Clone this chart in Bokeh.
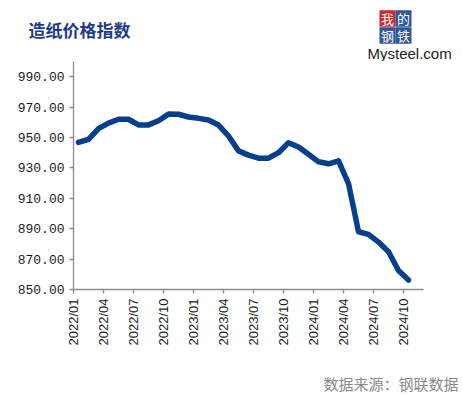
import math
from bokeh.plotting import figure
from bokeh.layouts import column
from bokeh.models import Range1d, FixedTicker, PrintfTickFormatter, ColumnDataSource
from bokeh.core.properties import value
from bokeh.embed import file_html
from bokeh.resources import INLINE

# ---- data ----
months = ["2022/01", "2022/02", "2022/03", "2022/04", "2022/05", "2022/06",
          "2022/07", "2022/08", "2022/09", "2022/10", "2022/11", "2022/12",
          "2023/01", "2023/02", "2023/03", "2023/04", "2023/05", "2023/06",
          "2023/07", "2023/08", "2023/09", "2023/10", "2023/11", "2023/12",
          "2024/01", "2024/02", "2024/03", "2024/04", "2024/05", "2024/06",
          "2024/07", "2024/08", "2024/09", "2024/10"]
values = [946.8, 948.8, 955.8, 959.5, 962.0, 962.0,
          958.3, 958.3, 961.0, 965.4, 965.3, 963.5,
          962.6, 961.5, 958.2, 951.0, 941.2, 938.4,
          936.4, 936.4, 940.0, 946.6, 943.8, 939.0,
          934.0, 932.7, 934.6, 919.7, 888.0, 886.3,
          881.2, 874.8, 862.5, 856.2]
tick_labels = ["2022/01", "2022/04", "2022/07", "2022/10", "2023/01", "2023/04",
               "2023/07", "2023/10", "2024/01", "2024/04", "2024/07", "2024/10"]
y_ticks = [850, 870, 890, 910, 930, 950, 970, 990]

title_text = "造纸价格指数"
source_text = "数据来源：钢联数据"
logo_chars = ["我", "的", "钢", "铁"]
logo_colors = ["#d1262b", "#2f5597", "#2f5597", "#2f5597"]
logo_brand = "Mysteel.com"

W = 463


def blank(height):
    f = figure(width=W, height=height, output_backend="svg", toolbar_location=None,
               x_range=Range1d(0, W), y_range=Range1d(0, height),
               min_border=0, x_axis_type=None, y_axis_type=None)
    f.outline_line_color = None
    f.xgrid.visible = False
    f.ygrid.visible = False
    f.frame_align = False
    return f


# ---- header: title + logo ----
HH = 61
head = blank(HH)
head.text(x=[28], y=[HH - 28.5], text=[title_text], text_font=value("Noto Sans CJK SC"),
          text_font_style="bold", text_font_size="17px", text_color="#1d3a8a",
          text_baseline="middle", text_align="left")
lx = [387, 403, 387, 403]
ly = [HH - 18, HH - 18, HH - 35, HH - 35]
head.rect(x=lx, y=ly, width=16, height=16.5, fill_color=logo_colors, line_color=None)
head.text(x=lx, y=ly, text=logo_chars, text_font=value("Noto Sans CJK SC"),
          text_font_size="13px", text_color="white", text_align="center",
          text_baseline="middle")
head.text(x=[367], y=[HH - 53], text=[logo_brand], text_font=value("Liberation Sans"),
          text_font_size="15px", text_color="#222222", text_align="left",
          text_baseline="middle")

# ---- main chart ----
n_cat = len(months) + 1
xs = [i + 0.5 for i in range(len(months))]
src = ColumnDataSource(dict(x=xs, y=values, m=months))

FH = 228
BB = 62
p = figure(width=W, height=FH + BB, output_backend="svg", toolbar_location=None,
           x_range=Range1d(0, n_cat), y_range=Range1d(850, 1000),
           min_border_left=73, min_border_right=W - 73 - 350, min_border_top=0,
           min_border_bottom=BB)
p.frame_align = False
p.outline_line_color = None
p.xgrid.visible = False
p.ygrid.visible = False

p.line("x", "y", source=src, line_color="#073f8f", line_width=5.5,
       line_join="round", line_cap="round")

tick_pos = [months.index(t) for t in tick_labels]
p.xaxis.ticker = FixedTicker(ticks=tick_pos)
p.xaxis.major_label_overrides = {tp: lab for tp, lab in zip(tick_pos, tick_labels)}
p.xaxis.major_label_orientation = math.pi / 2
p.xaxis.major_label_text_font = "Liberation Sans"
p.xaxis.major_label_text_font_size = "13px"
p.xaxis.major_label_standoff = 5

p.yaxis.ticker = FixedTicker(ticks=y_ticks)
p.yaxis.formatter = PrintfTickFormatter(format="%.2f")
p.yaxis.major_label_text_font = "Liberation Mono"
p.yaxis.major_label_text_font_size = "13px"
p.yaxis.major_label_standoff = 5

for ax in (p.xaxis, p.yaxis):
    ax.axis_line_color = "#8c8c8c"
    ax.axis_line_width = 1.3
    ax.major_tick_line_color = "#8c8c8c"
    ax.major_tick_line_width = 1.3
    ax.major_tick_out = 4
    ax.major_tick_in = 0
    ax.minor_tick_line_color = None
    ax.major_label_text_color = "#1a1a1a"

# ---- footer ----
FT = 397 - HH - (FH + BB)
foot = blank(FT)
foot.text(x=[458], y=[FT - (383 - HH - FH - BB)], text=[source_text],
          text_font=value("Noto Sans CJK SC"), text_font_size="15px",
          text_color="#8a8a8a", text_baseline="middle", text_align="right")

layout = column(head, p, foot, spacing=0)
open("out.html", "w").write(file_html(layout, INLINE))
